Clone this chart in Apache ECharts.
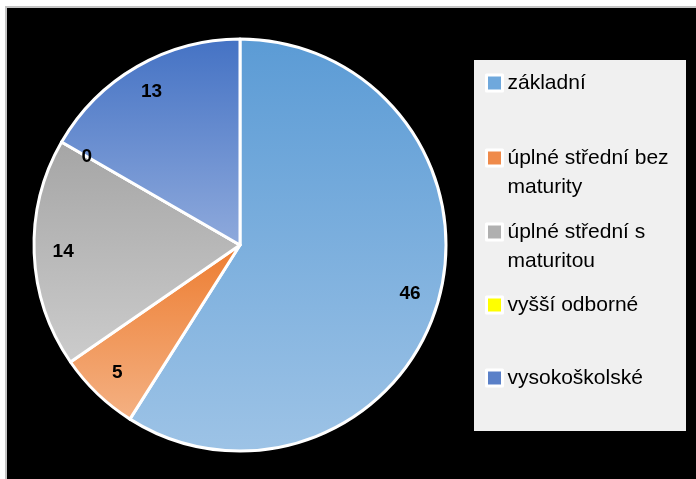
<!DOCTYPE html>
<html>
<head>
    <meta charset="utf-8"/>
    <title>Vzdělání</title>
    <script type="text/javascript" src="https://cdn.jsdelivr.net/npm/echarts@6/dist/echarts.min.js"></script>
    <style>
        html, body {
            margin: 0;
            padding: 0;
            background: #ffffff;
        }

        #chart {
            width: 696px;
            height: 479px;
        }
    </style>
</head>
<body>
<div id="chart"></div>

<script type="text/javascript">
    // data
    const categories = ['základní', 'úplné střední bez maturity', 'úplné střední s maturitou', 'vyšší odborné', 'vysokoškolské'];
    const legendLabels = ['základní', 'úplné střední bez\nmaturity', 'úplné střední s\nmaturitou', 'vyšší odborné', 'vysokoškolské'];
    const values = [46, 5, 14, 0, 13];

    // gradient top / bottom per slice, solid colour for legend icons
    const topColors = ['#5b9bd5', '#ed7d31', '#a5a5a5', '#ffff00', '#4472c4'];
    const bottomColors = ['#9dc3e6', '#f4b183', '#cccccc', '#ffff66', '#8faadc'];
    const legendColors = ['#6fa8dc', '#ef8a4a', '#b0b0b0', '#ffff00', '#5a80c8'];
    // centre of each legend icon (px)
    const legendCenters = [83, 158, 232, 305, 378];
    const lineH = 29;

    let chart = echarts.init(document.getElementById('chart'));

    let pieData = categories.map(function (name, i) {
        return {
            name: name,
            value: values[i],
            itemStyle: {
                color: new echarts.graphic.LinearGradient(0, 0, 0, 1, [
                    {offset: 0, color: topColors[i]},
                    {offset: 1, color: bottomColors[i]}
                ])
            }
        };
    });

    let labelData = categories.map(function (name, i) {
        return {name: name, value: values[i]};
    });

    let legends = categories.map(function (name, i) {
        let twoLines = legendLabels[i].indexOf('\n') >= 0;
        // a blank first line keeps the icon beside the first real line
        let text = twoLines ? ' \n' + legendLabels[i] : legendLabels[i];
        let half = twoLines ? lineH * 1.5 : lineH / 2;
        return {
            show: true,
            left: 485,
            top: legendCenters[i] - half,
            orient: 'vertical',
            selectedMode: false,
            icon: 'rect',
            itemWidth: 16,
            itemHeight: 16,
            itemGap: 0,
            padding: 0,
            data: [{
                name: name,
                itemStyle: {color: legendColors[i], borderColor: '#ffffff', borderWidth: 3}
            }],
            formatter: function () {
                return text;
            },
            textStyle: {
                color: '#000000',
                fontFamily: 'Liberation Sans',
                fontSize: 21,
                lineHeight: lineH
            }
        };
    });

    chart.setOption({
        backgroundColor: '#ffffff',
        animation: false,
        graphic: [
            {
                type: 'rect',
                z: -10,
                shape: {x: 6, y: 7, width: 700, height: 480},
                style: {fill: '#000000', stroke: '#c4c4c4', lineWidth: 2}
            },
            {
                type: 'rect',
                z: -5,
                shape: {x: 474, y: 60, width: 212, height: 371},
                style: {fill: '#f0f0f0'}
            }
        ],
        legend: legends,
        series: [
            {
                type: 'pie',
                center: [240, 245],
                radius: [0, 206],
                startAngle: 90,
                clockwise: true,
                avoidLabelOverlap: false,
                silent: true,
                label: {show: false},
                labelLine: {show: false},
                itemStyle: {borderColor: '#ffffff', borderWidth: 3},
                data: pieData
            },
            {
                type: 'pie',
                center: [240, 245],
                radius: [142, 206],
                startAngle: 90,
                clockwise: true,
                avoidLabelOverlap: false,
                silent: true,
                itemStyle: {color: 'rgba(0,0,0,0)', borderWidth: 0},
                label: {
                    show: true,
                    position: 'inside',
                    formatter: '{c}',
                    color: '#000000',
                    fontFamily: 'Liberation Sans',
                    fontWeight: 'bold',
                    fontSize: 19
                },
                labelLine: {show: false},
                data: labelData
            }
        ]
    });
</script>
</body>
</html>
